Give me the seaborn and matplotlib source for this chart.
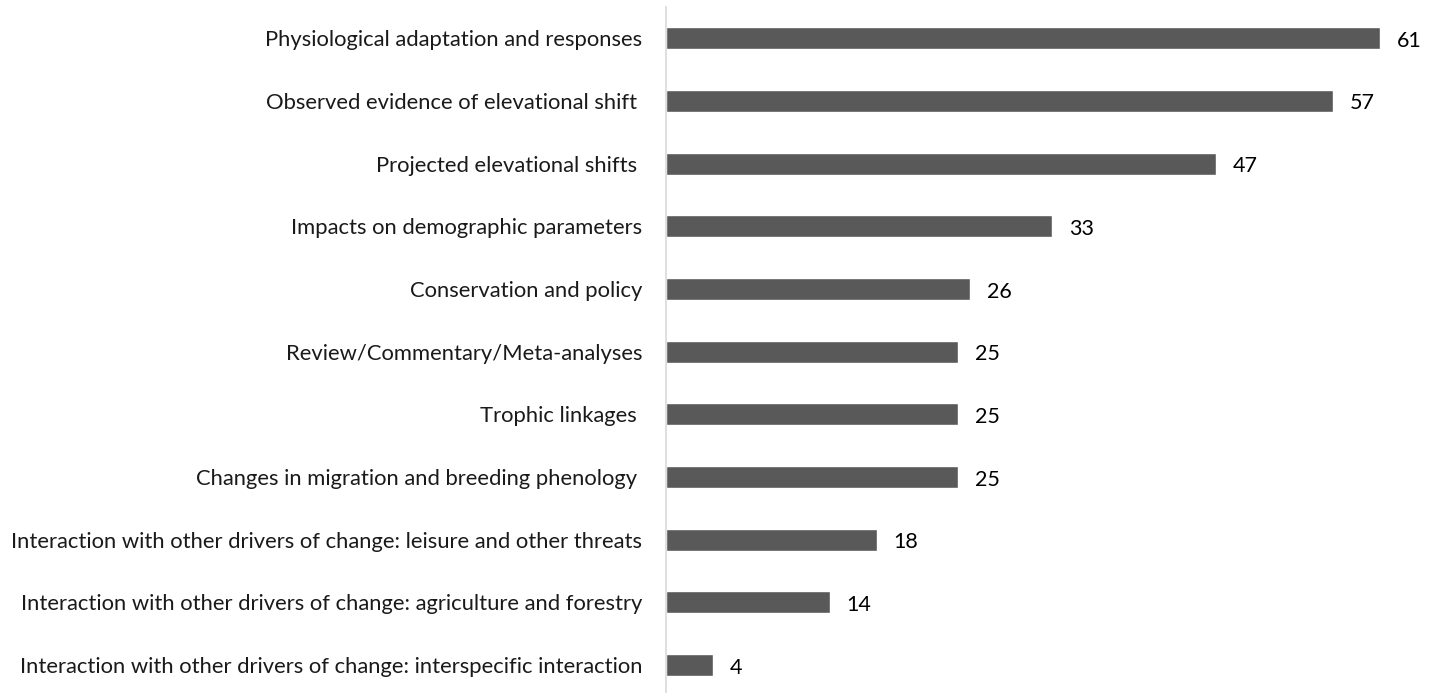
import matplotlib
matplotlib.use("Agg")
import matplotlib.pyplot as plt
import seaborn as sns
import pandas as pd

categories = [
    "Physiological adaptation and responses",
    "Observed evidence of elevational shift ",
    "Projected elevational shifts ",
    "Impacts on demographic parameters",
    "Conservation and policy",
    "Review/Commentary/Meta-analyses",
    "Trophic linkages ",
    "Changes in migration and breeding phenology ",
    "Interaction with other drivers of change: leisure and other threats",
    "Interaction with other drivers of change: agriculture and forestry",
    "Interaction with other drivers of change: interspecific interaction",
]
values = [61, 57, 47, 33, 26, 25, 25, 25, 18, 14, 4]

df = pd.DataFrame({"category": categories, "value": values})

sns.set_theme(style="white")
plt.rcParams["font.family"] = ["Lato", "DejaVu Sans"]

fig = plt.figure(figsize=(14.38, 6.93), dpi=100)
ax = fig.add_axes([666 / 1438, -0.005, 1 - 666 / 1438, 0.995])

sns.barplot(data=df, x="value", y="category", orient="h", color="#595959",
            saturation=1, width=0.35, ax=ax)

for i, v in enumerate(values):
    ax.text(v + 1.45, i + 0.04, str(v), va="center", ha="left", fontsize=15.5,
            color="#000000")

ax.set_xlim(0, 66)
ax.set_ylim(10.5, -0.5)
ax.set_xlabel("")
ax.set_ylabel("")
ax.set_xticks([])
ax.tick_params(axis="y", length=0, pad=17, labelsize=15.8, labelcolor="#1a1a1a")
for s in ["top", "right", "bottom"]:
    ax.spines[s].set_visible(False)
ax.spines["left"].set_color("#d9d9d9")
ax.spines["left"].set_linewidth(1.2)

fig.savefig("out.png", dpi=100)
